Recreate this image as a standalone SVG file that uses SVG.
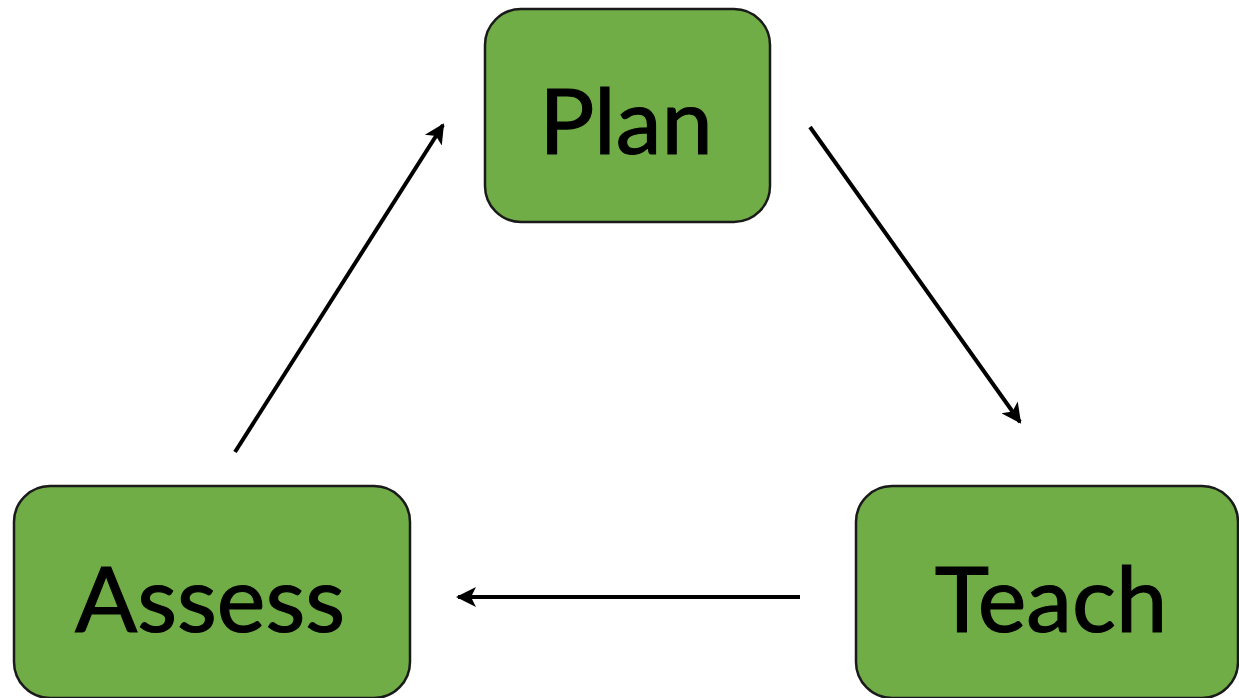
<svg xmlns="http://www.w3.org/2000/svg" width="1239" height="698" viewBox="0 0 1239 698">
<style>
.box{fill:#70ad47;stroke:#1a1a1a;stroke-width:2.5}
.lbl{font-family:Lato,"Liberation Sans",sans-serif;font-size:92px;fill:#000;stroke:#000;stroke-width:1.2;text-anchor:middle}
.conn{stroke:#000;stroke-width:4;fill:none;marker-end:url(#ah)}
</style>
<defs>
<marker id="ah" viewBox="0 0 10 10" refX="9" refY="5" markerWidth="5.5" markerHeight="5" markerUnits="strokeWidth" orient="auto">
<path d="M0,0 L10,5 L0,10 L2.5,5 Z" fill="#000"/>
</marker>
</defs>
<rect width="1239" height="698" fill="#fff"/>
<g id="connectors">
<line class="conn" x1="810" y1="127" x2="1020" y2="422"/>
<line class="conn" x1="800" y1="597" x2="458" y2="597"/>
<line class="conn" x1="235" y1="452" x2="443" y2="125"/>
</g>
<g id="plan">
<rect class="box" x="485" y="9" width="285" height="213" rx="36"/>
<text class="lbl" x="626" y="154">Plan</text>
</g>
<g id="assess">
<rect class="box" x="14" y="486" width="396" height="212" rx="36"/>
<text class="lbl" x="210" y="632">Assess</text>
</g>
<g id="teach">
<rect class="box" x="856" y="486" width="382" height="212" rx="36"/>
<text class="lbl" x="1051" y="632">Teach</text>
</g>
</svg>
